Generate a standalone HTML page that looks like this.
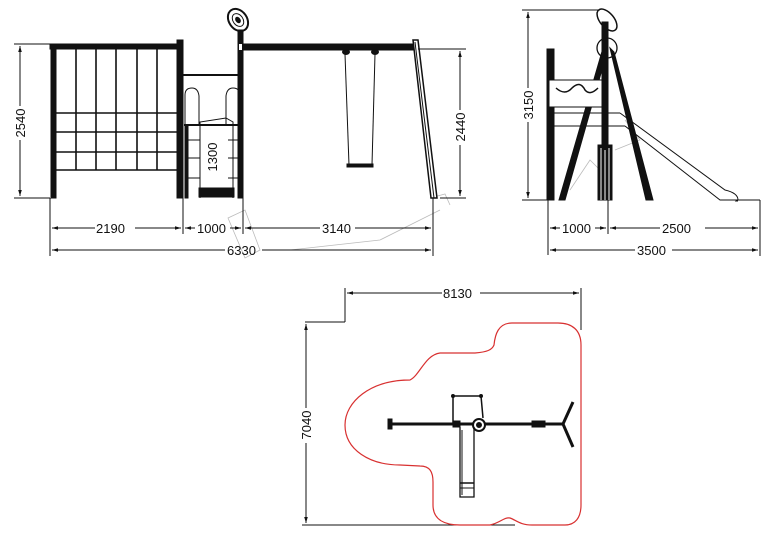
<!DOCTYPE html>
<html><head><meta charset="utf-8"><style>
html,body{margin:0;padding:0;background:#fff;width:784px;height:538px;overflow:hidden}
svg{display:block}
text{font-family:"Liberation Sans",sans-serif;font-size:13px;fill:#111}
</style></head><body>
<svg width="784" height="538" viewBox="0 0 784 538" xmlns="http://www.w3.org/2000/svg">
<defs>
<marker id="a" viewBox="0 0 10 10" refX="10" refY="5" markerWidth="8" markerHeight="6" orient="auto-start-reverse"><path d="M0,2 L10,5 L0,8 Z" fill="#111"/></marker>
</defs>
<g stroke="#111" fill="none" stroke-width="1">
<!-- ghost lines -->
<g stroke="#bbb" stroke-width="0.8">
<path d="M228,218 L245,210 L260,250 L245,258 Z"/>
<path d="M290,250 L380,240 L440,210"/>
<path d="M430,198 L445,194 L450,205"/>
<path d="M570,190 L590,160 L600,170 M625,120 L640,140 L615,150"/>
</g>
<!-- FRONT VIEW -->
<line x1="14" y1="44" x2="50" y2="44"/><line x1="14" y1="198" x2="50" y2="198"/>
<line x1="20" y1="46" x2="20" y2="106" marker-start="url(#a)"/><line x1="20" y1="140" x2="20" y2="196" marker-end="url(#a)"/>
<rect x="50" y="44" width="133" height="5" fill="#111"/>
<rect x="51" y="47" width="5" height="151" fill="#111"/>
<rect x="177" y="40" width="6" height="158" fill="#111"/>
<g stroke-width="1.6">
<line x1="76" y1="49" x2="76" y2="170"/><line x1="96" y1="49" x2="96" y2="170"/><line x1="116" y1="49" x2="116" y2="170"/><line x1="137" y1="49" x2="137" y2="170"/><line x1="157" y1="49" x2="157" y2="170"/>
<line x1="56" y1="113" x2="177" y2="113"/><line x1="56" y1="132" x2="177" y2="132"/><line x1="56" y1="152" x2="177" y2="152"/><line x1="56" y1="170" x2="177" y2="170"/>
</g>
<line x1="183" y1="75" x2="240" y2="75" stroke-width="2"/>
<path d="M185,125 L185,95 Q185,88 192,88 Q198,88 199,96 L199,125 Z"/>
<path d="M226,125 L226,96 Q227,88 233,88 Q240,88 240,96 L240,125 Z"/>
<line x1="184" y1="125" x2="242" y2="125" stroke-width="2"/>
<rect x="185" y="126" width="3" height="72" fill="#111"/><rect x="239" y="126" width="3" height="72" fill="#111"/>
<line x1="188" y1="140" x2="200" y2="140"/><line x1="188" y1="158" x2="200" y2="158"/><line x1="188" y1="178" x2="200" y2="178"/>
<line x1="228" y1="140" x2="239" y2="140"/><line x1="228" y1="158" x2="239" y2="158"/><line x1="228" y1="178" x2="239" y2="178"/>
<path d="M200,198 L200,122 L226,118 L233,122 L233,198"/>
<rect x="199" y="188" width="35" height="9" fill="#111"/>
<rect x="238" y="30" width="5" height="168" fill="#111"/>
<rect x="239" y="44" width="3" height="6" fill="#fff" stroke="none"/>
<ellipse cx="238" cy="20" rx="9" ry="12" transform="rotate(-35 238 20)" stroke-width="2"/>
<ellipse cx="238" cy="20" rx="5" ry="7" transform="rotate(-35 238 20)"/>
<ellipse cx="238" cy="20" rx="2" ry="3" transform="rotate(-35 238 20)" fill="#111"/>
<rect x="243" y="44" width="170" height="6" fill="#111"/>
<ellipse cx="346" cy="52" rx="3.5" ry="2.5" fill="#111"/><ellipse cx="375" cy="52" rx="3.5" ry="2.5" fill="#111"/>
<line x1="345" y1="54" x2="349" y2="165"/><line x1="375" y1="54" x2="372" y2="165"/>
<rect x="347" y="164" width="26" height="3" fill="#111"/>
<path d="M413,40 L418,40 L437,198 L431,198 Z" fill="#fff" stroke-width="1.5"/>
<line x1="415" y1="42" x2="434" y2="198" stroke-width="1"/>
<line x1="418" y1="49" x2="466" y2="49"/>
<line x1="440" y1="198" x2="466" y2="198"/>
<line x1="460" y1="51" x2="460" y2="110" marker-start="url(#a)"/><line x1="460" y1="145" x2="460" y2="196" marker-end="url(#a)"/>
<line x1="50" y1="198" x2="50" y2="256"/><line x1="183" y1="198" x2="183" y2="234"/><line x1="243" y1="198" x2="243" y2="234"/><line x1="433" y1="198" x2="433" y2="256"/>
<line x1="52" y1="228" x2="95" y2="228" marker-start="url(#a)"/><line x1="135" y1="228" x2="181" y2="228" marker-end="url(#a)"/>
<line x1="185" y1="228" x2="195" y2="228" marker-start="url(#a)"/><line x1="230" y1="228" x2="241" y2="228" marker-end="url(#a)"/>
<line x1="245" y1="228" x2="320" y2="228" marker-start="url(#a)"/><line x1="355" y1="228" x2="431" y2="228" marker-end="url(#a)"/>
<line x1="52" y1="250" x2="225" y2="250" marker-start="url(#a)"/><line x1="262" y1="250" x2="431" y2="250" marker-end="url(#a)"/>
<!-- SIDE VIEW -->
<line x1="522" y1="10" x2="600" y2="10"/><line x1="522" y1="200" x2="548" y2="200"/>
<line x1="528" y1="12" x2="528" y2="88" marker-start="url(#a)"/><line x1="528" y1="122" x2="528" y2="198" marker-end="url(#a)"/>
<rect x="547" y="49" width="7" height="151" fill="#111"/>
<path d="M603,48 L559,200 L565,200 L607,52 Z" fill="#111"/>
<path d="M610,48 L646,200 L653,200 L614,52 Z" fill="#111"/>
<rect x="602" y="22" width="6" height="178" fill="#111"/>
<rect x="598" y="145" width="14" height="55" fill="#111"/>
<line x1="601" y1="148" x2="601" y2="200" stroke="#fff"/><line x1="605" y1="150" x2="605" y2="200" stroke="#fff"/><line x1="609" y1="148" x2="609" y2="200" stroke="#fff"/>
<ellipse cx="607" cy="20" rx="7" ry="13" transform="rotate(-40 607 20)" stroke-width="1.5"/>
<circle cx="607" cy="48" r="10" stroke-width="1.3"/>
<path d="M549,80 L602,80 L602,107 L549,107 Z" fill="#fff"/>
<path d="M556,88 Q565,96 572,88 Q580,80 585,90 Q590,96 598,88" stroke-width="1.5"/>
<line x1="554" y1="113" x2="620" y2="113"/><line x1="554" y1="126" x2="625" y2="126"/>
<path d="M620,113 L725,190 Q738,193 738,200 L737,200 L736,201 L738,201"/>
<path d="M625,126 L720,200 L738,200"/>
<line x1="548" y1="200" x2="548" y2="255"/><line x1="608" y1="200" x2="608" y2="234"/><line x1="760" y1="200" x2="760" y2="256"/>
<line x1="737" y1="200" x2="760" y2="200"/>
<line x1="550" y1="228" x2="560" y2="228" marker-start="url(#a)"/><line x1="595" y1="228" x2="606" y2="228" marker-end="url(#a)"/>
<line x1="610" y1="228" x2="660" y2="228" marker-start="url(#a)"/><line x1="705" y1="228" x2="758" y2="228" marker-end="url(#a)"/>
<line x1="550" y1="250" x2="635" y2="250" marker-start="url(#a)"/><line x1="672" y1="250" x2="758" y2="250" marker-end="url(#a)"/>
<!-- PLAN VIEW -->
<line x1="345" y1="288" x2="345" y2="322"/><line x1="305" y1="322" x2="345" y2="322"/>
<line x1="581" y1="288" x2="581" y2="330"/>
<line x1="347" y1="293" x2="442" y2="293" marker-start="url(#a)"/><line x1="480" y1="293" x2="579" y2="293" marker-end="url(#a)"/>
<line x1="306" y1="324" x2="306" y2="408" marker-start="url(#a)"/><line x1="306" y1="443" x2="306" y2="523" marker-end="url(#a)"/>
<line x1="302" y1="525" x2="515" y2="525"/>
<path d="M410,380 C370,380 345,402 345,425 C345,450 370,465 400,465 L420,466 C430,466 433,472 433,482 L433,505 C433,520 445,525 460,525 L490,525 C500,523 504,517 510,518 C516,520 520,525 532,525 L565,525 C575,525 581,518 581,505 L581,345 C581,330 572,323 558,323 L512,323 C498,323 495,335 494,345 C492,350 487,352 475,353 L440,353 C425,355 420,375 410,380 Z" stroke="#d83030" stroke-width="1.2"/>
<line x1="390" y1="424" x2="563" y2="424" stroke-width="3"/>
<rect x="388" y="419" width="4" height="10" fill="#111"/>
<path d="M453,423 L453,396 L481,396 L483,418" stroke-width="1.5"/>
<circle cx="453" cy="396" r="1.5" fill="#111"/><circle cx="481" cy="396" r="1.5" fill="#111"/>
<circle cx="479" cy="425" r="6" fill="#fff" stroke-width="2"/><circle cx="479" cy="425" r="2.5" fill="#111"/>
<rect x="453" y="421" width="7" height="6" fill="#111"/>
<path d="M460,427 L460,497 L474,497 L474,427" stroke-width="1.3"/>
<line x1="462" y1="430" x2="462" y2="495"/>
<line x1="460" y1="483" x2="474" y2="483" stroke-width="1.5"/><line x1="460" y1="488" x2="474" y2="488"/>
<rect x="532" y="421" width="13" height="6" fill="#111"/>
<path d="M563,424 L573,402 M563,424 L573,447" stroke-width="3"/>
</g>
<text x="96" y="233">2190</text>
<text x="197" y="233">1000</text>
<text x="322" y="233">3140</text>
<text x="227" y="255">6330</text>
<text x="562" y="233">1000</text>
<text x="662" y="233">2500</text>
<text x="637" y="255">3500</text>
<text x="443" y="298">8130</text>
<text transform="translate(25,123) rotate(-90)" text-anchor="middle">2540</text>
<text transform="translate(217,157) rotate(-90)" text-anchor="middle">1300</text>
<text transform="translate(465,127) rotate(-90)" text-anchor="middle">2440</text>
<text transform="translate(533,105) rotate(-90)" text-anchor="middle">3150</text>
<text transform="translate(311,425) rotate(-90)" text-anchor="middle">7040</text>
</svg>
</body></html>
